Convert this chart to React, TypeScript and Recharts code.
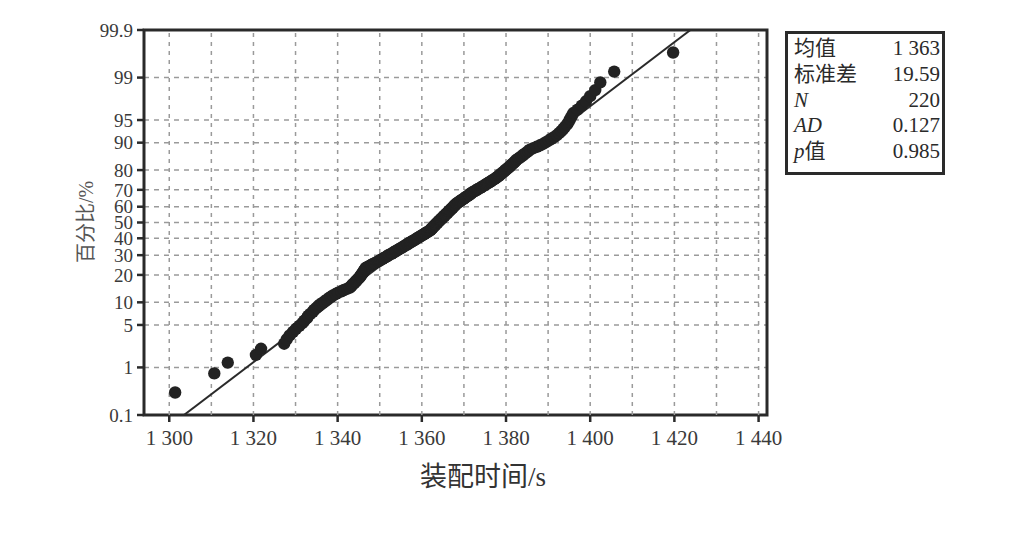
import {
  CartesianGrid,
  ReferenceArea,
  ReferenceLine,
  Scatter,
  ScatterChart,
  XAxis,
  YAxis,
} from 'recharts';

// sorted assembly times (s)
const times = [
  1301.4, 1310.7, 1313.9, 1320.6, 1321.8, 1327.3, 1327.9, 1328.6, 1329.4, 1330.1,
  1330.9, 1331.6, 1332.1, 1332.7, 1333.0, 1333.5, 1334.1, 1334.4, 1334.9, 1335.4,
  1335.8, 1336.4, 1336.9, 1337.5, 1337.9, 1338.4, 1338.9, 1339.6, 1340.1, 1340.9,
  1341.5, 1342.3, 1342.9, 1343.2, 1343.4, 1343.7, 1344.0, 1344.3, 1344.5, 1344.7,
  1345.0, 1345.2, 1345.4, 1345.5, 1345.7, 1345.9, 1346.0, 1346.2, 1346.3, 1346.5,
  1346.6, 1346.8, 1347.2, 1347.7, 1348.0, 1348.4, 1348.8, 1349.3, 1349.6, 1350.0,
  1350.3, 1350.7, 1351.0, 1351.4, 1351.7, 1352.0, 1352.3, 1352.8, 1353.0, 1353.3,
  1353.7, 1354.0, 1354.3, 1354.6, 1354.9, 1355.3, 1355.5, 1355.8, 1356.1, 1356.5,
  1356.7, 1357.0, 1357.3, 1357.6, 1357.9, 1358.2, 1358.5, 1358.8, 1359.0, 1359.3,
  1359.7, 1359.9, 1360.2, 1360.5, 1360.7, 1361.0, 1361.3, 1361.6, 1361.9, 1362.1,
  1362.2, 1362.4, 1362.5, 1362.7, 1362.9, 1363.0, 1363.2, 1363.3, 1363.5, 1363.7,
  1363.8, 1364.0, 1364.2, 1364.3, 1364.5, 1364.7, 1364.9, 1365.0, 1365.2, 1365.4,
  1365.5, 1365.7, 1365.9, 1366.1, 1366.2, 1366.4, 1366.6, 1366.7, 1366.9, 1367.1,
  1367.3, 1367.4, 1367.6, 1367.8, 1367.9, 1368.1, 1368.3, 1368.6, 1368.8, 1369.1,
  1369.3, 1369.6, 1369.9, 1370.1, 1370.4, 1370.6, 1370.9, 1371.2, 1371.4, 1371.7,
  1371.9, 1372.2, 1372.5, 1372.9, 1373.2, 1373.5, 1373.9, 1374.2, 1374.5, 1374.9,
  1375.2, 1375.5, 1375.8, 1376.2, 1376.5, 1376.8, 1377.2, 1377.5, 1377.8, 1378.1,
  1378.4, 1378.6, 1378.9, 1379.2, 1379.5, 1379.7, 1380.0, 1380.3, 1380.6, 1380.9,
  1381.1, 1381.4, 1381.7, 1382.0, 1382.2, 1382.5, 1382.9, 1383.3, 1383.7, 1384.1,
  1384.5, 1384.9, 1385.3, 1385.7, 1386.5, 1387.3, 1388.1, 1388.9, 1389.5, 1390.2,
  1390.8, 1391.5, 1392.1, 1392.6, 1393.1, 1393.6, 1394.0, 1394.5, 1394.9, 1395.2,
  1395.6, 1396.0, 1397.0, 1398.0, 1399.0, 1400.0, 1401.2, 1402.4, 1405.7, 1419.7,
];

const xTicks = [1300, 1320, 1340, 1360, 1380, 1400, 1420, 1440];
const xGrid = [1300, 1310, 1320, 1330, 1340, 1350, 1360, 1370, 1380, 1390, 1400, 1410, 1420, 1430, 1440];
const yTickLabels = ['0.1', '1', '5', '10', '20', '30', '40', '50', '60', '70', '80', '90', '95', '99', '99.9'];

// fitted normal line, ends (time, percent)
const fitLine = [
  { t: 1303.5, pct: 0.1 },
  { t: 1423.8, pct: 99.9 },
];

const stats = [
  { label: '均值', value: '1 363' },
  { label: '标准差', value: '19.59' },
  { label: 'N', value: '220' },
  { label: 'AD', value: '0.127' },
  { label: 'p值', value: '0.985' },
];

// inverse normal cdf (Acklam)
function probit(p: number) {
  const a = [-39.69683028665376, 220.9460984245205, -275.9285104469687, 138.357751867269, -30.66479806614716, 2.506628277459239];
  const b = [-54.47609879822406, 161.5858368580409, -155.6989798598866, 66.80131188771972, -13.28068155288572];
  const c = [-0.007784894002430293, -0.3223964580411365, -2.400758277161838, -2.549732539343734, 4.374664141464968, 2.938163982698783];
  const d = [0.007784695709041462, 0.3224671290700398, 2.445134137142996, 3.754408661907416];
  const lo = 0.02425;
  if (p < lo) {
    const q = Math.sqrt(-2 * Math.log(p));
    return (((((c[0] * q + c[1]) * q + c[2]) * q + c[3]) * q + c[4]) * q + c[5]) / ((((d[0] * q + d[1]) * q + d[2]) * q + d[3]) * q + 1);
  }
  if (p <= 1 - lo) {
    const q = p - 0.5;
    const r = q * q;
    return ((((((a[0] * r + a[1]) * r + a[2]) * r + a[3]) * r + a[4]) * r + a[5]) * q) / (((((b[0] * r + b[1]) * r + b[2]) * r + b[3]) * r + b[4]) * r + 1);
  }
  const q = Math.sqrt(-2 * Math.log(1 - p));
  return -(((((c[0] * q + c[1]) * q + c[2]) * q + c[3]) * q + c[4]) * q + c[5]) / ((((d[0] * q + d[1]) * q + d[2]) * q + d[3]) * q + 1);
}

const n = times.length;
// median-rank plotting positions
const points = times.map((t, i) => ({ t, z: probit((i + 1 - 0.3) / (n + 0.4)) }));
const yTicks = yTickLabels.map((l) => probit(Number(l) / 100));
const zMin = yTicks[0];
const zMax = yTicks[yTicks.length - 1];

const SERIF = '"Liberation Serif", "Noto Sans CJK SC", serif';
const INK = '#2a2a2a';
const GRID = '#9a9a9a';

const fmtX = (v: number) => `${Math.floor(v / 1000)} ${String(v % 1000).padStart(3, '0')}`;

function StatLabel({ text }: { text: string }) {
  const parts = text.split(/([A-Za-z]+)/).filter(Boolean);
  return (
    <span>
      {parts.map((p, i) =>
        /[A-Za-z]/.test(p) ? (
          <i key={i}>{p}</i>
        ) : (
          <span key={i}>{p}</span>
        ),
      )}
    </span>
  );
}

export default function App() {
  return (
    <div style={{ position: 'absolute', left: 0, top: 0, width: 1022, height: 536, background: '#fff', fontFamily: SERIF }}>
      <ScatterChart width={1022} height={536} margin={{ top: 30, right: 255, bottom: 81, left: 94 }}>
        <CartesianGrid vertical={false} stroke={GRID} strokeWidth={1.5} strokeDasharray="5 5" />
        <XAxis
          type="number"
          dataKey="t"
          domain={[1294, 1442]}
          ticks={xTicks}
          allowDataOverflow
          tickFormatter={fmtX}
          axisLine={false}
          tickLine={{ stroke: INK, strokeWidth: 2.5 }}
          tickSize={7}
          tickMargin={8}
          height={40}
          tick={{ fontSize: 21, fill: '#3a3a3a', fontFamily: SERIF }}
        />
        <YAxis
          type="number"
          dataKey="z"
          domain={[zMin, zMax]}
          ticks={yTicks}
          allowDataOverflow
          interval={0}
          tickFormatter={(_v: number, i: number) => yTickLabels[i]}
          axisLine={false}
          tickLine={{ stroke: INK, strokeWidth: 2.5 }}
          tickSize={7}
          tickMargin={4}
          width={50}
          tick={{ fontSize: 19, fill: '#3a3a3a', fontFamily: SERIF }}
        />
        {xGrid.map((v) => (
          <ReferenceLine key={v} x={v} stroke={GRID} strokeWidth={1.5} strokeDasharray="4 5" />
        ))}
        <ReferenceLine
          segment={fitLine.map((f) => ({ x: f.t, y: probit(f.pct / 100) }))}
          stroke={INK}
          strokeWidth={2}
          ifOverflow="hidden"
        />
        <Scatter
          data={points}
          isAnimationActive={false}
          shape={(p: any) => <circle cx={p.cx} cy={p.cy} r={6.2} fill="#222" />}
        />
        <ReferenceArea x1={1294} x2={1442} y1={zMin} y2={zMax} fill="none" stroke={INK} strokeWidth={3} />
      </ScatterChart>

      <div
        style={{
          position: 'absolute',
          left: 84,
          top: 222,
          transform: 'translate(-50%, -50%) rotate(-90deg)',
          fontSize: 20,
          color: '#555',
          whiteSpace: 'nowrap',
        }}
      >
        百分比/%
      </div>

      <div
        style={{
          position: 'absolute',
          left: 483,
          top: 455,
          transform: 'translateX(-50%)',
          fontSize: 27,
          color: '#333',
          whiteSpace: 'nowrap',
        }}
      >
        装配时间/s
      </div>

      <div
        style={{
          position: 'absolute',
          left: 785,
          top: 31,
          width: 146,
          height: 136,
          border: `3px solid ${INK}`,
          padding: '2px 2px 0 6px',
          fontSize: 21,
          lineHeight: '25.8px',
          color: INK,
        }}
      >
        {stats.map((s) => (
          <div key={s.label} style={{ display: 'flex', justifyContent: 'space-between' }}>
            <StatLabel text={s.label} />
            <span>{s.value}</span>
          </div>
        ))}
      </div>
    </div>
  );
}
